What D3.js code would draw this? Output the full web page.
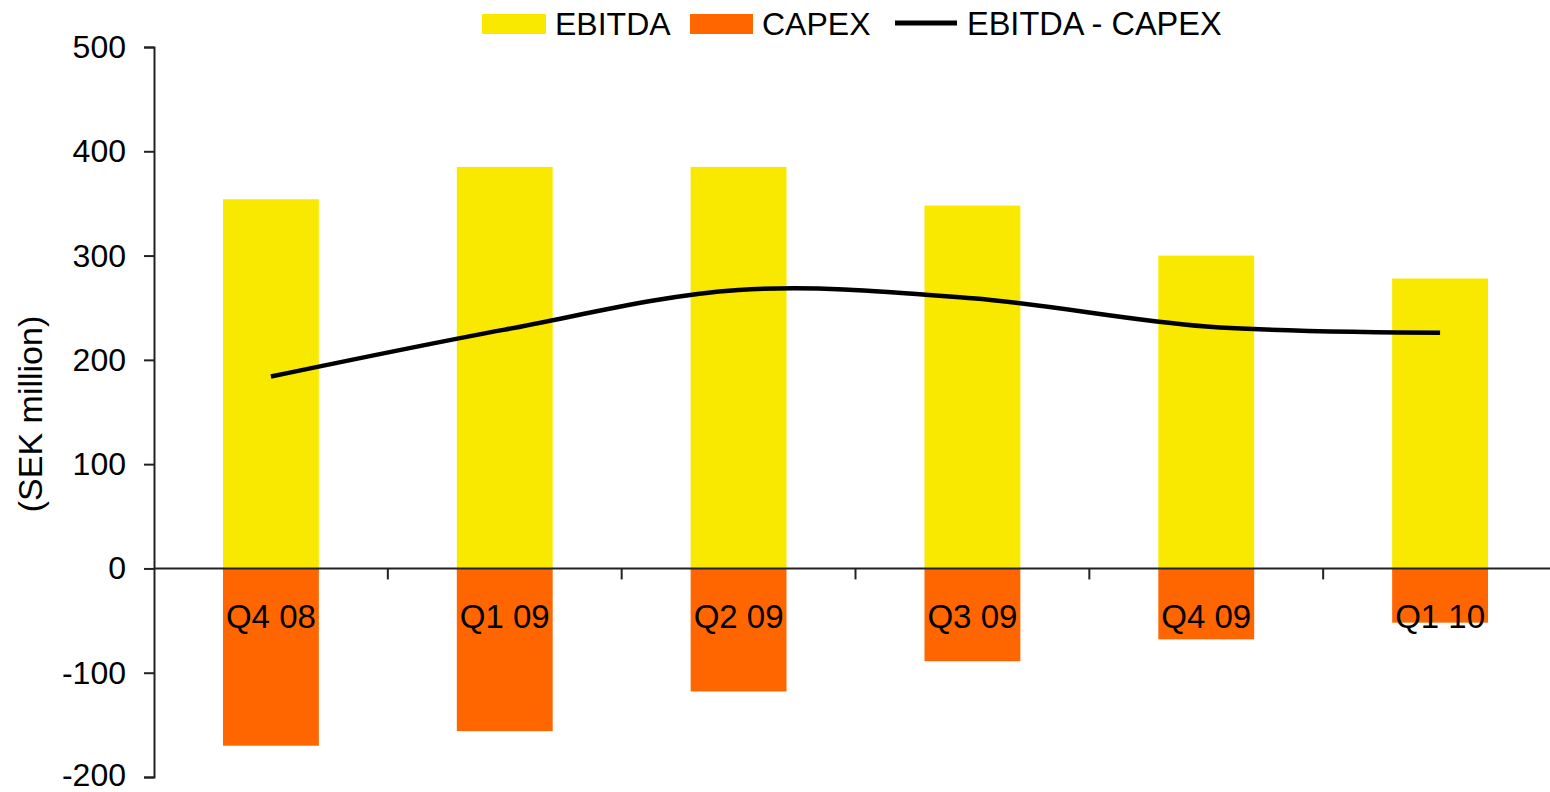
<!DOCTYPE html>
<html>
<head>
<meta charset="utf-8">
<script src="https://cdn.jsdelivr.net/npm/d3@7"></script>
<style>
  html, body { margin: 0; padding: 0; background: #fff; }
  svg { display: block; font-family: "Liberation Sans", Arial, sans-serif; }
</style>
</head>
<body>
<svg id="chart" width="1550" height="792"></svg>
<script>
// Quarterly figures, SEK million
const quarters = ["Q4 08", "Q1 09", "Q2 09", "Q3 09", "Q4 09", "Q1 10"];
const ebitda = [354, 385, 385, 348, 300, 278];
const capex = [-170, -156, -118, -89, -68, -52];
const yTicks = [-200, -100, 0, 100, 200, 300, 400, 500];
const seriesNames = ["EBITDA", "CAPEX", "EBITDA - CAPEX"];

// Cash flow proxy: EBITDA less capital expenditure (capex stored as negatives)
const netFlow = ebitda.map((v, i) => v + capex[i]);

const COLORS = { ebitda: "#F9E900", capex: "#FF6600", line: "#000000", axis: "#222222" };

const svg = d3.select("#chart");
const plotLeft = 154, plotRight = 1557, plotTop = 47, plotBottom = 777;

const x = d3.scaleBand()
  .domain(quarters)
  .range([plotLeft, plotRight])
  .paddingInner(0.59)
  .paddingOuter(0.295);

const y = d3.scaleLinear().domain([-200, 500]).range([plotBottom, plotTop]);

// Bars
const gBars = svg.append("g");
gBars.selectAll("rect.ebitda")
  .data(quarters)
  .join("rect")
  .attr("class", "ebitda")
  .attr("x", d => x(d))
  .attr("width", x.bandwidth())
  .attr("y", (d, i) => y(ebitda[i]))
  .attr("height", (d, i) => y(0) - y(ebitda[i]))
  .attr("fill", COLORS.ebitda);

gBars.selectAll("rect.capex")
  .data(quarters)
  .join("rect")
  .attr("class", "capex")
  .attr("x", d => x(d))
  .attr("width", x.bandwidth())
  .attr("y", y(0))
  .attr("height", (d, i) => y(capex[i]) - y(0))
  .attr("fill", COLORS.capex);

// Smoothed net line
const line = d3.line()
  .x((d, i) => x(quarters[i]) + x.bandwidth() / 2)
  .y(d => y(d))
  .curve(d3.curveCardinal.tension(0));

svg.append("path")
  .datum(netFlow)
  .attr("d", line)
  .attr("fill", "none")
  .attr("stroke", COLORS.line)
  .attr("stroke-width", 4.5);

// Y axis (plain hyphen for negatives)
const yAxis = d3.axisLeft(y)
  .tickValues(yTicks)
  .tickFormat(d => String(d))
  .tickSize(10)
  .tickPadding(18);

const gy = svg.append("g")
  .attr("transform", `translate(${plotLeft},0)`)
  .call(yAxis);
gy.select(".domain").attr("stroke", COLORS.axis).attr("stroke-width", 2);
gy.selectAll(".tick line").attr("stroke", COLORS.axis).attr("stroke-width", 2);
gy.selectAll(".tick text")
  .attr("fill", "#000")
  .style("font-size", "32px")
  .style("font-family", "'Liberation Sans', Arial, sans-serif")
  .attr("dy", d => d === yTicks[0] ? "0.25em" : "0.33em");

// X axis along zero, ticks at category boundaries
const step = x.step();
const boundaries = quarters.map(q => x(q) - (step - x.bandwidth()) / 2 + step);
const gx = svg.append("g");
gx.append("line")
  .attr("x1", plotLeft).attr("x2", 1550)
  .attr("y1", y(0)).attr("y2", y(0))
  .attr("stroke", COLORS.axis).attr("stroke-width", 2);
gx.selectAll("line.tick")
  .data(boundaries)
  .join("line")
  .attr("class", "tick")
  .attr("x1", d => d).attr("x2", d => d)
  .attr("y1", y(0)).attr("y2", y(0) + 11)
  .attr("stroke", COLORS.axis).attr("stroke-width", 2);

gx.selectAll("text.cat")
  .data(quarters)
  .join("text")
  .attr("class", "cat")
  .attr("x", d => x(d) + x.bandwidth() / 2)
  .attr("y", y(0) + 60)
  .attr("text-anchor", "middle")
  .style("font-size", "33px")
  .attr("fill", "#000")
  .text(d => d);

// Y axis title
svg.append("text")
  .attr("transform", `translate(42,414) rotate(-90)`)
  .attr("text-anchor", "middle")
  .style("font-size", "34px")
  .attr("fill", "#000")
  .text("(SEK million)");

// Legend
const legend = svg.append("g");
legend.append("rect").attr("x", 482).attr("y", 14).attr("width", 64).attr("height", 20).attr("fill", COLORS.ebitda);
legend.append("text").attr("x", 555).attr("y", 35).style("font-size", "32px").text(seriesNames[0]);
legend.append("rect").attr("x", 690).attr("y", 14).attr("width", 63).attr("height", 20).attr("fill", COLORS.capex);
legend.append("text").attr("x", 762).attr("y", 35).style("font-size", "32px").text(seriesNames[1]);
legend.append("line").attr("x1", 895).attr("x2", 957).attr("y1", 23).attr("y2", 23)
  .attr("stroke", COLORS.line).attr("stroke-width", 5);
legend.append("text").attr("x", 967).attr("y", 35).style("font-size", "32.5px").text(seriesNames[2]);
</script>
</body>
</html>
